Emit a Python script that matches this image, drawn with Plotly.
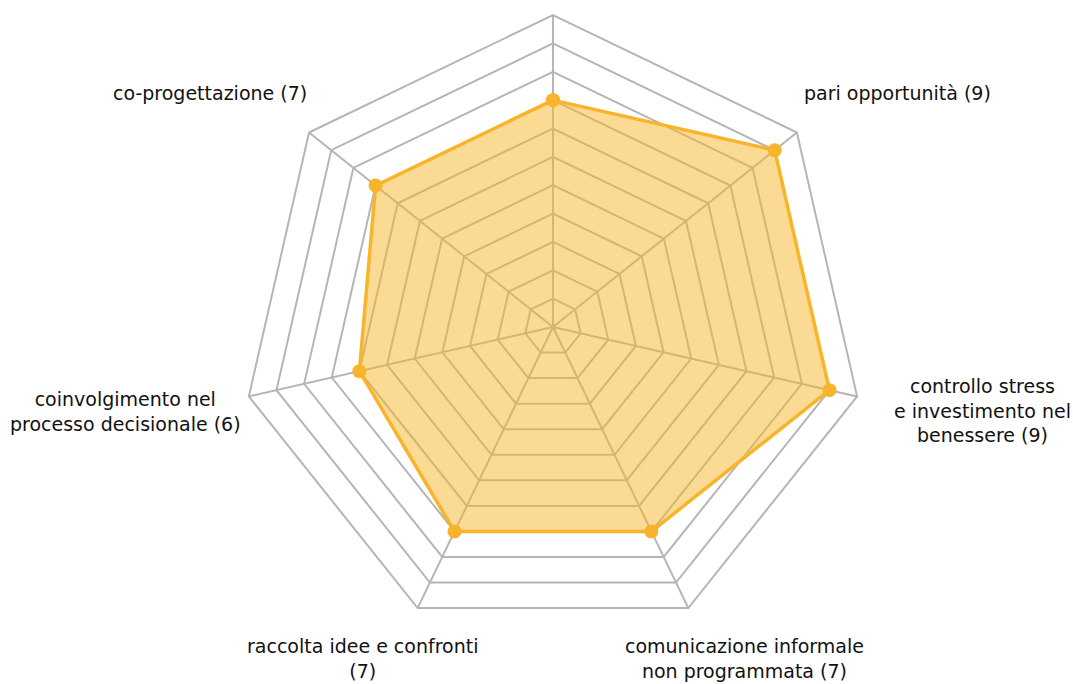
import plotly.graph_objects as go

# Data (clockwise from top)
categories = [
    "",
    "pari opportunità",
    "controllo stress<br>e investimento nel<br>benessere",
    "comunicazione informale<br>non programmata",
    "raccolta idee e confronti<br>",
    "coinvolgimento nel<br>processo decisionale",
    "co-progettazione",
]
values = [7, 9, 9, 7, 7, 6, 7]

# label placement (paper coords) for the visible labels
label_x = [None, 0.836, 1.0, 0.694, 0.338, 0.117, 0.196]
label_y = [None, 0.864, 0.400, 0.0, 0.0, 0.399, 0.864]
label_xanchor = [None, "center", "right", "center", "center", "center", "center"]
label_yanchor = [None, "middle", "middle", "bottom", "bottom", "middle", "middle"]

line_color = "#F8B42A"

fig = go.Figure()
fig.add_trace(go.Scatterpolar(
    r=values + [values[0]],
    theta=categories + [categories[0]],
    mode="lines+markers",
    fill="toself",
    fillcolor="rgba(247,181,41,0.5)",
    line=dict(color=line_color, width=3.5),
    marker=dict(color=line_color, size=14),
    hoverinfo="skip",
    showlegend=False,
))

annotations = []
for cat, v, x, y, xa, ya in zip(categories, values, label_x, label_y,
                                label_xanchor, label_yanchor):
    if x is None:
        continue
    if cat.endswith("<br>"):
        text = f"{cat}({v})"
    else:
        text = f"{cat} ({v})"
    annotations.append(dict(
        x=x, y=y, xref="paper", yref="paper", text=text, showarrow=False,
        xanchor=xa, yanchor=ya, align="center",
        font=dict(family="DejaVu Sans", size=19, color="#111111"),
    ))

fig.update_layout(
    width=1073, height=684,
    margin=dict(l=0, r=0, t=0, b=0),
    paper_bgcolor="white",
    plot_bgcolor="white",
    polar=dict(
        domain=dict(x=[0.2246, 0.8061], y=[0.0658, 0.978]),
        gridshape="linear",
        bgcolor="white",
        radialaxis=dict(
            range=[-1, 10], dtick=1, tick0=0,
            showticklabels=False, ticks="",
            gridcolor="#B5B5B5", gridwidth=2,
            showline=False,
        ),
        angularaxis=dict(
            rotation=90, direction="clockwise",
            showticklabels=False, ticks="",
            gridcolor="#B5B5B5", gridwidth=2,
            linecolor="#B5B5B5", linewidth=2,
        ),
    ),
    annotations=annotations,
    font=dict(family="DejaVu Sans"),
)

fig.write_html(
    "out.html",
    config={"displayModeBar": False},
    post_script="document.body.style.margin='0';document.body.style.overflow='hidden';",
)
